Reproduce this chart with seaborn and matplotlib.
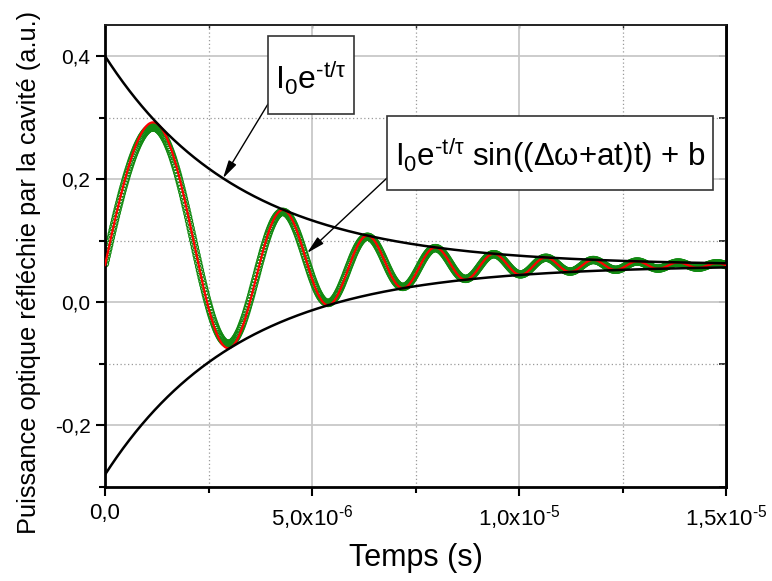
import numpy as np
import pandas as pd
import matplotlib
matplotlib.use("Agg")
import matplotlib.pyplot as plt
from matplotlib.patches import Rectangle
from matplotlib.ticker import FixedLocator, FixedFormatter
import seaborn as sns

# ---- values (model parameters of the fit) ----
fit_I0 = 0.34          # amplitude of the exponential envelope
fit_tau = 3.25e-6      # decay time (s)
fit_b = 0.06           # offset
fit_dw = 0.93e6        # Δω (rad/s)
fit_a = 0.203e12       # chirp a (rad/s^2)

data_I0 = 0.325        # measured trace amplitude
data_extra = 0.003     # measured trace extra offset at t=0 (decays with tau)

t_start = 0.0
t_end = 1.52e-5
n_data = 750
n_fit = 1500

y_ticks = [-0.2, 0.0, 0.2, 0.4]
y_tick_labels = ["-0,2", "0,0", "0,2", "0,4"]
y_minor = [-0.3, -0.1, 0.1, 0.3]
x_ticks = [0.0, 5e-6, 1e-5, 1.5e-5]
x_tick_labels = ["0,0", r"5,0x10$^{\text{-6}}$",
                 r"1,0x10$^{\text{-5}}$", r"1,5x10$^{\text{-5}}$"]
x_minor = [2.5e-6, 7.5e-6, 1.25e-5]

# ---- build curves from the parameters ----
t_fit = np.linspace(t_start, t_end, n_fit)
env = fit_I0 * np.exp(-t_fit / fit_tau)
phase = (fit_dw + fit_a * t_fit) * t_fit
df_fit = pd.DataFrame({
    "t": t_fit,
    "upper": fit_b + env,
    "lower": fit_b - env,
    "fit": fit_b + env * np.sin(phase),
})
t_d = np.linspace(t_start, t_end, n_data)
phase_d = (fit_dw + fit_a * t_d) * t_d
df_data = pd.DataFrame({
    "t": t_d,
    "y": fit_b + data_extra * np.exp(-t_d / fit_tau)
         + data_I0 * np.exp(-t_d / fit_tau) * np.sin(phase_d),
})

# ---- style ----
sns.set_theme(style="white")
plt.rcParams["font.family"] = ["Liberation Sans", "DejaVu Sans"]
plt.rcParams["mathtext.fontset"] = "custom"
plt.rcParams["mathtext.rm"] = "Liberation Sans"
plt.rcParams["mathtext.it"] = "Liberation Sans:italic"
plt.rcParams["mathtext.bf"] = "Liberation Sans:bold"
plt.rcParams["mathtext.sf"] = "Liberation Sans"

fig = plt.figure(figsize=(7.72, 5.81), dpi=100)
ax = fig.add_axes([105 / 772, 1 - 487 / 581, (726 - 105) / 772, (487 - 25) / 581])

ax.set_xlim(0, 1.5e-5)
ax.set_ylim(-0.3, 0.4504)

ax.xaxis.set_major_locator(FixedLocator(x_ticks))
ax.xaxis.set_major_formatter(FixedFormatter(x_tick_labels))
ax.xaxis.set_minor_locator(FixedLocator(x_minor))
ax.yaxis.set_major_locator(FixedLocator(y_ticks))
ax.yaxis.set_major_formatter(FixedFormatter(y_tick_labels))
ax.yaxis.set_minor_locator(FixedLocator(y_minor))
ax.grid(which="major", color="#c8c8c8", lw=1.3, ls="-", zorder=0)
ax.grid(which="minor", color="#9a9a9a", lw=0.9, ls=(0, (1, 2)), zorder=0)
ax.set_axisbelow(True)

# data (green hollow circles)
sns.scatterplot(data=df_data, x="t", y="y", ax=ax, marker="o", s=26,
                facecolors="none", edgecolors="#128a12", linewidths=0.9,
                legend=False, zorder=2)
# fit (red) drawn on top of the data
sns.lineplot(data=df_fit, x="t", y="fit", ax=ax, color="#ff0000", lw=1.6,
             zorder=5, legend=False)
# envelopes (black)
sns.lineplot(data=df_fit, x="t", y="upper", ax=ax, color="black", lw=1.8,
             zorder=6, legend=False)
sns.lineplot(data=df_fit, x="t", y="lower", ax=ax, color="black", lw=1.8,
             zorder=6, legend=False)

# spines / ticks
for side in ["left", "bottom", "right"]:
    ax.spines[side].set_linewidth(2.0)
    ax.spines[side].set_color("black")
ax.spines["top"].set_linewidth(1.2)
ax.spines["top"].set_color("#222222")
ax.tick_params(axis="both", which="major", direction="out", length=6.5,
               width=1.5, color="black", labelcolor="black")
ax.tick_params(axis="both", which="minor", direction="out", length=4.5,
               width=1.5, color="black")
ax.tick_params(axis="y", which="major", labelsize=15, pad=4)
ax.tick_params(axis="x", which="major", labelsize=16, pad=5)
ax.tick_params(left=True, bottom=True, which="both")

sec_r = ax.secondary_yaxis("right")
sec_r.yaxis.set_major_locator(FixedLocator(y_ticks))
sec_r.yaxis.set_minor_locator(FixedLocator(y_minor))
sec_r.tick_params(which="both", direction="in", length=5, width=1.3,
                  labelright=False, right=True)
sec_r.spines["right"].set_linewidth(2.0)

sec_t = ax.secondary_xaxis("top")
sec_t.xaxis.set_major_locator(FixedLocator(x_ticks))
sec_t.xaxis.set_minor_locator(FixedLocator(x_minor))
sec_t.tick_params(which="both", direction="in", length=2.5, width=1.0,
                  labeltop=False, top=True, color="#222222")
sec_t.spines["top"].set_linewidth(1.2)
sec_t.spines["top"].set_color("#222222")

ax.set_xlabel("Temps (s)", fontsize=22, labelpad=8, color="black")
ax.set_ylabel("Puissance optique réfléchie par la cavité (a.u.)", fontsize=18.3,
              color="black")
ax.yaxis.set_label_coords(-(105 - 41) / 621, (487 - 272) / 462)

# ---- annotation boxes ----
def fig_frac(px, py):
    return px / 772, 1 - py / 581

def box(x0, y0, x1, y1):
    fx0, fy1 = fig_frac(x0, y0)
    fx1, fy0 = fig_frac(x1, y1)
    fig.add_artist(Rectangle((fx0, fy0), fx1 - fx0, fy1 - fy0,
                             transform=fig.transFigure, facecolor="white",
                             edgecolor="#333333", lw=1.2, zorder=10))

box(268, 36, 354, 114)
box(387, 116, 713, 190)

cx, cy = fig_frac(311, 78)
fig.text(cx, cy, r"I$_\mathregular{0}$e$^{\text{-t/τ}}$", fontsize=23,
         ha="center", va="center", zorder=11, color="black")
cx, cy = fig_frac(550, 155)
fig.text(cx, cy, r"I$_\mathregular{0}$e$^{\text{-t/τ}}$ sin((Δω+at)t) + b",
         fontsize=22.5, ha="center", va="center", zorder=11, color="black")

arrow_kw = dict(arrowstyle="-|>,head_length=0.9,head_width=0.22", color="black",
                lw=1.0, shrinkA=0, shrinkB=0)
tx = 2.85e-6
ax.annotate("", xy=(tx, fit_b + fit_I0 * np.exp(-tx / fit_tau)),
            xytext=fig_frac(268, 104), textcoords="figure fraction",
            arrowprops=arrow_kw, zorder=9)
ax.annotate("", xy=(4.88e-6, 0.08),
            xytext=fig_frac(387, 178), textcoords="figure fraction",
            arrowprops=arrow_kw, zorder=9)

fig.savefig("out.png", dpi=100)
